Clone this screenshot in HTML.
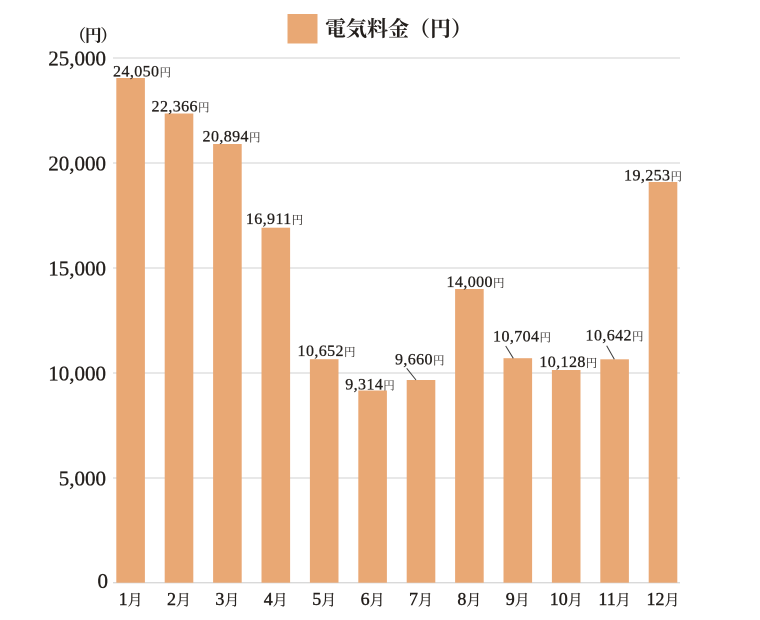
<!DOCTYPE html>
<html>
<head>
<meta charset="utf-8">
<style>
html,body{margin:0;padding:0;background:#fff;}
svg{display:block;}
.num{font-family:"Liberation Serif","Noto Serif CJK SC",serif;fill:#231f1c;}
.cjk{font-family:"Liberation Serif","Noto Serif CJK SC",serif;}
</style>
</head>
<body>
<svg width="760" height="620" viewBox="0 0 760 620" xmlns="http://www.w3.org/2000/svg">
  <rect width="760" height="620" fill="#fff"/>
  <!-- legend -->
  <rect x="287.5" y="14" width="30" height="29.5" fill="#E9A874"/>
  <text x="325" y="36" class="cjk" font-size="21" font-weight="bold" fill="#231f1c">電気料金（円）</text>
  <!-- unit -->
  <text x="92.5" y="41.5" class="cjk" font-size="17" font-weight="bold" fill="#231f1c" text-anchor="middle" letter-spacing="-1.5">（円）</text>

  <!-- gridlines -->
  <g stroke="#d9d9d9" stroke-width="1.3">
    <line x1="113" y1="58" x2="680" y2="58"/>
    <line x1="113" y1="163" x2="680" y2="163"/>
    <line x1="113" y1="268" x2="680" y2="268"/>
    <line x1="113" y1="373" x2="680" y2="373"/>
    <line x1="113" y1="478" x2="680" y2="478"/>
    <line x1="113" y1="582.7" x2="680" y2="582.7"/>
  </g>

  <!-- y labels -->
  <g class="num" font-size="21" text-anchor="end" stroke="#231f1c" stroke-width="0.3">
    <text x="106" y="65.5">25,000</text>
    <text x="106" y="170.5">20,000</text>
    <text x="106" y="275.5">15,000</text>
    <text x="106" y="380.5">10,000</text>
    <text x="106" y="485.5">5,000</text>
    <text x="108" y="588">0</text>
  </g>

  <!-- bars -->
  <g fill="#E9A874">
    <rect x="116.3" y="78" width="28.6" height="504.7"/>
    <rect x="164.7" y="113.5" width="28.6" height="469.2"/>
    <rect x="213.1" y="144" width="28.6" height="438.7"/>
    <rect x="261.5" y="227.7" width="28.6" height="355"/>
    <rect x="309.9" y="359.2" width="28.6" height="223.5"/>
    <rect x="358.3" y="390.5" width="28.6" height="192.2"/>
    <rect x="406.7" y="380" width="28.6" height="202.7"/>
    <rect x="455.1" y="289" width="28.6" height="293.7"/>
    <rect x="503.5" y="358.2" width="28.6" height="224.5"/>
    <rect x="551.9" y="370" width="28.6" height="212.7"/>
    <rect x="600.3" y="359.3" width="28.6" height="223.4"/>
    <rect x="648.7" y="182" width="28.6" height="400.7"/>
  </g>

  <!-- leader lines -->
  <g stroke="#3a3a3a" stroke-width="1">
    <line x1="406.7" y1="368.3" x2="416" y2="380"/>
    <line x1="505.7" y1="346" x2="513.3" y2="358.3"/>
    <line x1="606.7" y1="345.7" x2="614.3" y2="359.3"/>
  </g>

  <!-- value labels -->
  <g class="num" font-size="16" letter-spacing="0.4" text-anchor="middle" stroke="#231f1c" stroke-width="0.3">
    <text x="142" y="76.5">24,050<tspan font-size="11.5" letter-spacing="0" stroke-width="0">円</tspan></text>
    <text x="180.5" y="111.5">22,366<tspan font-size="11.5" letter-spacing="0" stroke-width="0">円</tspan></text>
    <text x="231.5" y="141.5">20,894<tspan font-size="11.5" letter-spacing="0" stroke-width="0">円</tspan></text>
    <text x="274.5" y="223.8">16,911<tspan font-size="11.5" letter-spacing="0" stroke-width="0">円</tspan></text>
    <text x="326.5" y="356">10,652<tspan font-size="11.5" letter-spacing="0" stroke-width="0">円</tspan></text>
    <text x="370" y="389.3">9,314<tspan font-size="11.5" letter-spacing="0" stroke-width="0">円</tspan></text>
    <text x="419.7" y="364.6">9,660<tspan font-size="11.5" letter-spacing="0" stroke-width="0">円</tspan></text>
    <text x="475.5" y="287">14,000<tspan font-size="11.5" letter-spacing="0" stroke-width="0">円</tspan></text>
    <text x="522" y="341.3">10,704<tspan font-size="11.5" letter-spacing="0" stroke-width="0">円</tspan></text>
    <text x="568.3" y="367">10,128<tspan font-size="11.5" letter-spacing="0" stroke-width="0">円</tspan></text>
    <text x="614.5" y="340.3">10,642<tspan font-size="11.5" letter-spacing="0" stroke-width="0">円</tspan></text>
    <text x="653" y="180.3">19,253<tspan font-size="11.5" letter-spacing="0" stroke-width="0">円</tspan></text>
  </g>

  <!-- month labels -->
  <g class="num" font-size="18" text-anchor="middle" stroke="#231f1c" stroke-width="0.4">
    <text x="130.6" y="605">1<tspan font-size="15" stroke-width="0.2">月</tspan></text>
    <text x="179" y="605">2<tspan font-size="15" stroke-width="0.2">月</tspan></text>
    <text x="227.4" y="605">3<tspan font-size="15" stroke-width="0.2">月</tspan></text>
    <text x="275.8" y="605">4<tspan font-size="15" stroke-width="0.2">月</tspan></text>
    <text x="324.2" y="605">5<tspan font-size="15" stroke-width="0.2">月</tspan></text>
    <text x="372.6" y="605">6<tspan font-size="15" stroke-width="0.2">月</tspan></text>
    <text x="421" y="605">7<tspan font-size="15" stroke-width="0.2">月</tspan></text>
    <text x="469.4" y="605">8<tspan font-size="15" stroke-width="0.2">月</tspan></text>
    <text x="517.8" y="605">9<tspan font-size="15" stroke-width="0.2">月</tspan></text>
    <text x="566.2" y="605">10<tspan font-size="15" stroke-width="0.2">月</tspan></text>
    <text x="614.6" y="605">11<tspan font-size="15" stroke-width="0.2">月</tspan></text>
    <text x="663" y="605">12<tspan font-size="15" stroke-width="0.2">月</tspan></text>
  </g>
</svg>
</body>
</html>
